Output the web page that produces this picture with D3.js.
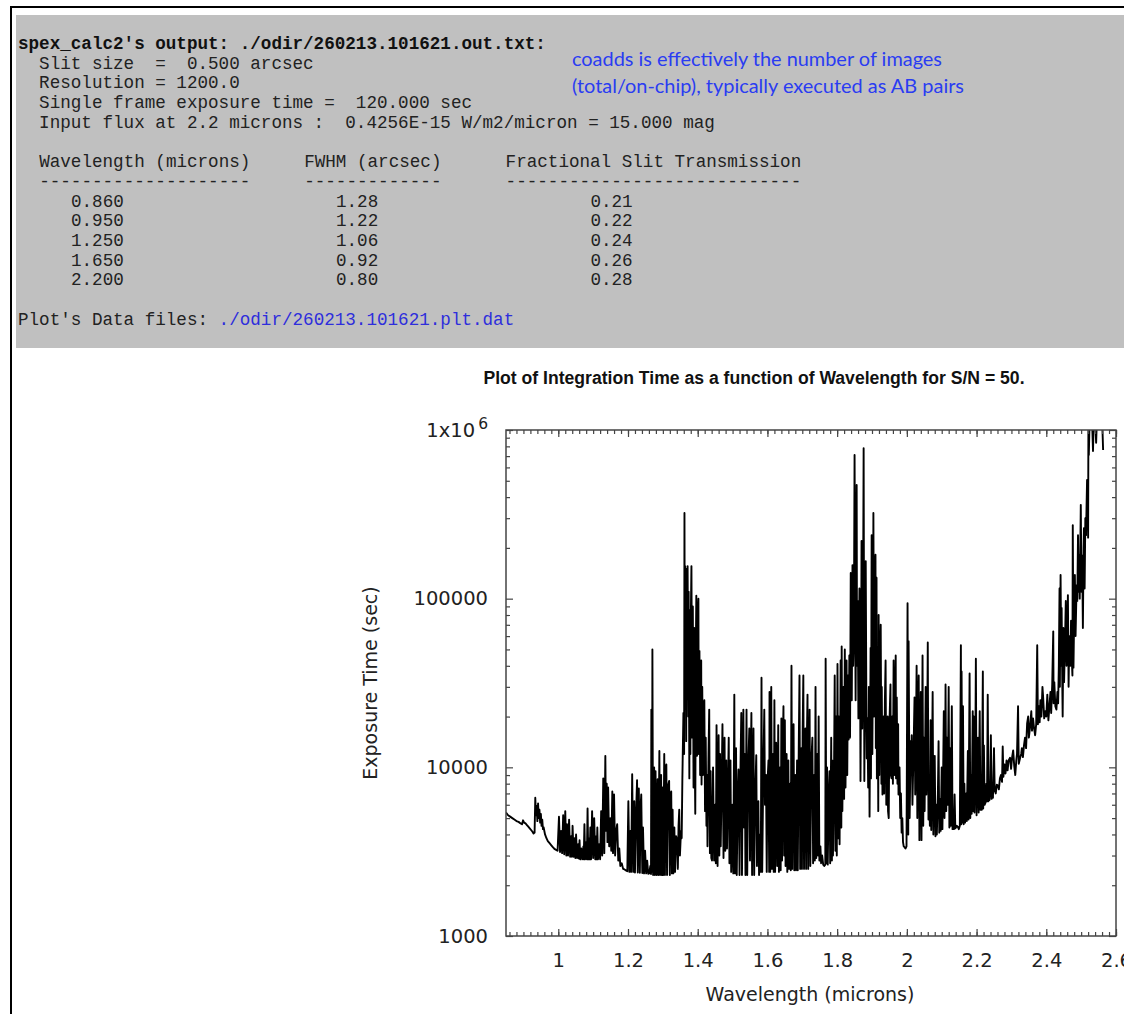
<!DOCTYPE html>
<html>
<head>
<meta charset="utf-8">
<script src="https://cdn.jsdelivr.net/npm/d3@7"></script>
<style>
body { margin: 0; background: #fff; }
.mono { font-family: "Liberation Mono", "DejaVu Sans Mono", monospace; font-size: 17.6px; fill: #222; white-space: pre; }
.tick text { font-family: "DejaVu Sans", sans-serif; font-size: 19.5px; fill: #222; }
</style>
</head>
<body>
<svg id="page" width="1124" height="1014"></svg>
<script>
// text block printed by the calculator
const runInfo = [
	"spex_calc2's output: ./odir/260213.101621.out.txt:",
	"  Slit size  =  0.500 arcsec",
	"  Resolution = 1200.0",
	"  Single frame exposure time =  120.000 sec",
	"  Input flux at 2.2 microns :  0.4256E-15 W/m2/micron = 15.000 mag"
]
const colHeads = ['Wavelength (microns)', 'FWHM (arcsec)', 'Fractional Slit Transmission']
const tableWave = ['0.860', '0.950', '1.250', '1.650', '2.200']
const tableFwhm = ['1.28', '1.22', '1.06', '0.92', '0.80']
const tableSlit = ['0.21', '0.22', '0.24', '0.26', '0.28']
const dataFile = './odir/260213.101621.plt.dat'
const note = ['coadds is effectively the number of images', '(total/on-chip), typically executed as AB pairs']

// exposure time (sec) vs wavelength (microns)
const zBand = [
	[0.850,5400],[0.856,5200],[0.862,5100],[0.868,5000],[0.874,4900],[0.880,4800],[0.886,4750],[0.892,4650],[0.896,4600],[0.899,4850],
	[0.902,4700],[0.906,4650],[0.910,4550],[0.914,4450],[0.918,4350],[0.922,4250],[0.926,4150],[0.929,4050],[0.932,4100],[0.934,6600],
	[0.936,5200],[0.938,5900],[0.940,4800],[0.942,6100],[0.944,5000],[0.946,5600],[0.948,4700],[0.950,5300],[0.952,4500],[0.954,4900],
	[0.956,4300],[0.958,4400],[0.962,4000],[0.966,3800],[0.970,3650],[0.975,3550],[0.980,3450],[0.985,3350],[0.990,3270],[0.995,3230],
	[0.998,3200],[1.002,5100],[1.005,3150],[1.008,4200],[1.011,3100],[1.014,5200],[1.017,3050],[1.020,5500],[1.023,3000],[1.025,4600],
	[1.028,3000],[1.031,4900],[1.034,2950],[1.037,3900],[1.039,2950],[1.041,4500],[1.044,2950],[1.047,3800],[1.049,2900],[1.051,4000],
	[1.054,2900],[1.057,3500],[1.059,2880],[1.061,3700],[1.063,2850],[1.066,3300],[1.069,2850],[1.072,3400],[1.073,2850],[1.075,4600],
	[1.077,2850],[1.080,3600],[1.082,2850],[1.084,5700],[1.086,2850],[1.089,3800],[1.090,2850],[1.092,4400],[1.094,2850],[1.097,5500],
	[1.100,2900],[1.103,5000],[1.106,2850],[1.109,3900],[1.110,2850],[1.112,4400],[1.114,2850],[1.117,3500],[1.120,2850],[1.123,5500],
	[1.126,3000],[1.129,8600]
]
const jBand = [
	[1.132,3100],[1.135,11700],[1.137,4200],[1.139,8000],[1.141,3600],[1.143,7600],[1.146,3400],[1.149,5000],[1.152,3200],[1.155,7200],
	[1.157,3100],[1.160,6900],[1.163,3000],[1.166,4200],[1.169,4600],[1.172,2800],[1.175,3300],[1.178,2600],[1.182,2700],[1.186,2500],
	[1.190,2480],[1.194,2450],[1.198,2420],[1.201,6300],[1.204,2400],[1.207,4200],[1.209,2400],[1.212,9100],[1.215,2400],[1.218,6300],
	[1.220,2380],[1.223,5200],[1.226,8400],[1.228,2380],[1.231,7500],[1.234,2370],[1.236,5800],[1.238,6900],[1.241,2360],[1.243,4400],
	[1.246,2350],[1.249,3200],[1.252,2350],[1.255,2800],[1.258,2340],[1.261,2350],[1.264,2600],[1.266,2330],[1.267,22000],[1.269,2400],
	[1.270,50000],[1.272,2300],[1.275,10000],[1.277,2300],[1.279,9500],[1.282,2300],[1.285,8500],[1.287,2300],[1.290,12500],[1.292,2300],
	[1.295,9000],[1.297,2300],[1.299,7600],[1.301,2300],[1.304,12000],[1.306,2300],[1.308,9500],[1.310,10400],[1.312,2300],[1.315,7800],
	[1.318,8300],[1.320,2300],[1.322,6500],[1.324,7200],[1.326,2350],[1.328,5600],[1.330,2350],[1.333,4400],[1.335,2400],[1.338,3900],
	[1.341,3700],[1.343,2500],[1.345,4500],[1.347,5600],[1.349,3000],[1.352,4200],[1.354,3800]
]
const h2oBand1 = [
	[1.356,8600],[1.359,21000],[1.361,12000],[1.362,322000],[1.363,30000],[1.364,156000],[1.366,60000],[1.367,14300],[1.368,150000],[1.370,40000],
	[1.371,156000],[1.373,20000],[1.374,110000],[1.376,8600],[1.377,85000],[1.379,12000],[1.380,70000],[1.382,156000],[1.384,15000],[1.386,90000],
	[1.388,7600],[1.389,20000],[1.390,67000],[1.392,9000],[1.393,5300],[1.395,60000],[1.396,104000],[1.398,11700],[1.400,80000],[1.402,100000],
	[1.403,12000],[1.405,49000],[1.407,9000],[1.409,35000],[1.410,43000],[1.411,7900],[1.413,30000],[1.415,9000],[1.417,22000],[1.419,25000],
	[1.421,5500],[1.423,15000],[1.425,4500],[1.427,9000],[1.428,3400],[1.431,12000],[1.433,22000],[1.435,3100],[1.437,9500],[1.439,2900]
]
const hBand = [
	[1.441,2800],[1.444,10000],[1.447,2800],[1.450,6000],[1.452,2700],[1.454,17800],[1.457,2600],[1.460,15500],[1.462,3000],[1.464,12000],
	[1.466,3400],[1.469,9000],[1.471,18000],[1.474,2900],[1.477,15000],[1.479,3200],[1.482,11000],[1.484,3300],[1.487,8000],[1.489,15000],
	[1.491,2700],[1.494,11000],[1.496,2400],[1.499,6000],[1.502,2350],[1.505,27000],[1.507,2350],[1.510,13000],[1.512,2300],[1.515,7000],
	[1.517,9700],[1.520,2300],[1.522,8000],[1.525,21000],[1.527,2300],[1.529,9000],[1.531,22000],[1.533,4400],[1.535,12000],[1.537,2300],
	[1.540,22000],[1.542,2300],[1.545,10000],[1.548,17000],[1.550,2800],[1.552,9000],[1.554,21000],[1.556,2300],[1.558,8000],[1.560,17000],
	[1.562,2300],[1.565,7000],[1.568,11800],[1.570,2600],[1.572,5000],[1.574,6300],[1.576,2300],[1.579,4000],[1.581,2400],[1.583,34000],
	[1.585,2400],[1.588,9000],[1.591,22000],[1.593,6000],[1.596,9000],[1.598,2400],[1.600,8000],[1.603,11000],[1.605,2400],[1.606,28000],
	[1.608,2400],[1.611,30000],[1.613,2500],[1.616,12000],[1.618,2400],[1.620,25000],[1.622,2400],[1.625,14000],[1.628,2600],[1.631,17800],
	[1.633,2400],[1.636,10000],[1.638,2450],[1.640,19500],[1.642,2800],[1.644,13000],[1.646,23000],[1.648,3000],[1.650,19000],[1.652,2600],
	[1.655,12000],[1.657,2400],[1.660,11000],[1.662,2500],[1.665,8000],[1.667,2450],[1.669,40000],[1.671,2500],[1.673,12000],[1.675,18000],
	[1.677,2450],[1.680,9000],[1.682,2450],[1.685,11000],[1.687,2450],[1.690,14000],[1.692,35000],[1.694,2500],[1.697,13000],[1.699,2500],
	[1.701,16000],[1.703,35000],[1.705,2500],[1.707,12000],[1.709,17000],[1.711,2500],[1.713,14000],[1.715,27000],[1.717,2500],[1.719,9000],
	[1.721,22000],[1.723,2600],[1.726,11000],[1.729,15000],[1.731,2700],[1.734,9000],[1.736,2800],[1.738,30000],[1.740,2900],[1.743,12000],
	[1.745,3000],[1.747,20000],[1.749,2800],[1.752,3400],[1.754,2700],[1.757,3000],[1.760,2650],[1.763,2600],[1.766,2650],[1.767,44000],
	[1.769,2700],[1.771,10000],[1.773,2650],[1.776,7000],[1.778,9500],[1.780,2700],[1.783,15000],[1.785,2800],[1.786,11000],[1.788,3000],
	[1.791,9000],[1.793,35000],[1.795,3200],[1.797,20000],[1.799,3000],[1.801,41000],[1.803,3800],[1.805,20000],[1.807,3500],[1.810,43000],
	[1.812,4400],[1.813,52000],[1.815,5500],[1.818,30000],[1.820,6500],[1.822,50000],[1.824,7600],[1.827,43000],[1.829,9000],[1.831,35000],
	[1.833,14600]
]
const h2oBand2 = [
	[1.835,46000],[1.837,15000],[1.839,142000],[1.841,30000],[1.842,25000],[1.844,158000],[1.846,40000],[1.848,60000],[1.850,711000],[1.852,60000],
	[1.853,25000],[1.856,472000],[1.857,40000],[1.859,97000],[1.861,19500],[1.864,115000],[1.866,30000],[1.867,8300],[1.869,50000],[1.870,220000],
	[1.872,17000],[1.874,60000],[1.876,780000],[1.878,8300],[1.880,40000],[1.882,167000],[1.884,20000],[1.885,11300],[1.887,19500],[1.889,7600],
	[1.891,30000],[1.893,5100],[1.896,51000],[1.897,8600],[1.899,238000],[1.901,12000],[1.903,60000],[1.904,322000],[1.906,20000],[1.908,90000],
	[1.910,182000],[1.911,13000],[1.913,133000],[1.914,8600],[1.916,50000],[1.918,5500],[1.919,80000],[1.921,9000],[1.923,40000],[1.925,70000],
	[1.927,8000],[1.928,30000],[1.930,6900],[1.933,20000],[1.935,7000],[1.937,25000],[1.939,43000],[1.941,6000],[1.943,15000],[1.945,20000],
	[1.946,5500],[1.948,5000],[1.950,18000],[1.953,31000],[1.954,9000],[1.956,8600],[1.958,20000],[1.960,8000],[1.962,43000],[1.964,9000],
	[1.966,20000],[1.968,46000],[1.969,8600],[1.971,26000],[1.973,8000],[1.975,18000],[1.976,6900],[1.979,10000],[1.981,5000],[1.983,7000],
	[1.985,4100],[1.987,5000],[1.989,3600],[1.991,3400],[1.994,3350],[1.996,3300],[1.999,3400],[2.002,94000],[2.004,4000],[2.005,56000]
]
const kBand = [
	[2.008,5000],[2.011,14300],[2.013,9500],[2.014,15500],[2.016,6000],[2.019,12000],[2.022,26000],[2.024,6900],[2.026,15000],[2.028,40000],
	[2.030,5000],[2.032,20000],[2.034,35000],[2.036,3700],[2.038,12000],[2.040,28000],[2.042,3700],[2.045,46000],[2.047,4500],[2.049,15000],
	[2.051,5500],[2.054,30000],[2.056,6900],[2.058,12000],[2.060,55000],[2.062,4900],[2.064,9000],[2.066,4500],[2.068,19000],[2.070,4250],
	[2.072,10000],[2.074,28000],[2.076,4000],[2.078,8000],[2.080,11700],[2.082,3900],[2.084,6000],[2.086,4000],[2.089,7000],[2.091,14300],
	[2.093,4100],[2.095,6500],[2.097,4200],[2.100,10000],[2.102,4300],[2.104,9000],[2.106,21500],[2.108,5000],[2.110,12000],[2.111,31000],
	[2.113,5500],[2.115,15000],[2.117,6000],[2.120,30000],[2.122,4400],[2.124,13000],[2.126,4500],[2.129,23000],[2.131,4300],[2.133,5500],
	[2.135,4300],[2.137,6900],[2.139,4350],[2.141,4400],[2.143,4500],[2.146,4450],[2.149,4300],[2.152,4500],[2.155,53000],[2.156,4600],
	[2.157,37000],[2.159,4700],[2.161,23000],[2.163,4600],[2.165,8000],[2.167,4700],[2.170,7000],[2.172,4800],[2.175,12500],[2.177,4900],
	[2.180,36000],[2.182,5000],[2.184,9000],[2.186,5300],[2.189,21500],[2.190,5500],[2.192,20000],[2.194,5400],[2.196,9000],[2.198,44000],
	[2.200,5200],[2.202,9000],[2.204,15000],[2.206,5400],[2.209,21500],[2.211,5600],[2.213,9000],[2.215,5600],[2.218,37000],[2.219,5700],
	[2.221,13500],[2.223,6000],[2.226,6200],[2.228,8000],[2.230,6300],[2.232,27000],[2.234,6300],[2.235,6900],[2.237,6400],[2.239,8000],
	[2.241,15500],[2.243,6500],[2.245,7500],[2.247,6600],[2.250,13000],[2.252,7300],[2.255,7000],[2.258,7900],[2.261,7800],[2.264,7400],
	[2.267,8600],[2.270,9000],[2.273,8200],[2.275,13300],[2.277,8800],[2.280,10400],[2.283,9200],[2.286,11000],[2.289,9600],[2.292,11000],
	[2.296,11400],[2.299,9800],[2.302,11500],[2.305,12600],[2.308,10200],[2.311,9000],[2.314,11000],[2.316,12000],[2.319,23000],[2.321,10500],
	[2.325,11400],[2.328,12000],[2.330,13000],[2.333,11500],[2.336,13500],[2.339,15000],[2.342,13000],[2.345,18200],[2.348,20000],[2.350,15000],
	[2.353,17000],[2.357,21500],[2.359,16500],[2.362,19500],[2.365,17000],[2.368,15500],[2.371,18000],[2.374,53000],[2.376,18000],[2.379,23000],
	[2.381,18500],[2.383,25000],[2.386,20000],[2.389,30000],[2.391,26000],[2.394,19500],[2.397,21500],[2.400,20000],[2.403,27000],[2.406,19000],
	[2.409,23000],[2.412,28000],[2.414,21000],[2.417,31000],[2.420,64000],[2.421,24000],[2.423,32000],[2.426,23000],[2.429,22000],[2.432,28000],
	[2.434,24000],[2.436,40000],[2.438,115000],[2.439,30000],[2.441,138000],[2.443,40000],[2.444,88000],[2.446,30000],[2.447,20000],[2.449,67000],
	[2.451,32000],[2.454,60000],[2.456,97000],[2.458,40000],[2.460,51000],[2.462,105000],[2.464,30000],[2.466,60000],[2.469,40000],[2.471,74000],
	[2.473,45000],[2.475,35000],[2.476,273000],[2.478,39000],[2.480,80000],[2.482,138000],[2.484,60000],[2.487,120000],[2.489,97000],[2.491,238000],
	[2.493,110000],[2.494,182000],[2.496,100000],[2.499,360000],[2.501,110000],[2.503,180000],[2.505,67000],[2.507,200000],[2.508,262000],[2.510,115000],
	[2.512,300000],[2.514,238000],[2.517,506000],[2.519,400000],[2.520,230000],[2.521,1400000],[2.522,711000],[2.525,1300000],[2.528,1500000],[2.531,1200000],
	[2.534,750000],[2.537,1400000],[2.540,1200000],[2.543,840000],[2.546,1300000],[2.550,1500000],[2.555,1400000],[2.560,1200000],[2.563,761000]
]

const xMajor = [1, 1.2, 1.4, 1.6, 1.8, 2, 2.2, 2.4, 2.6]
const yMajor = [1000, 10000, 100000, 1000000]
const yLabels = ['1000', '10000', '100000', '1x10']

const chartTitle = 'Plot of Integration Time as a function of Wavelength for S/N = 50.'
const xTitle = 'Wavelength (microns)'
const yTitle = 'Exposure Time (sec)'

var spectrum = [].concat(zBand, jBand, h2oBand1, hBand, h2oBand2, kBand)

var svg = d3.select('#page')

// page border and grey output box
svg.append('line').attr('x1', 11).attr('y1', 7).attr('x2', 11).attr('y2', 1014).attr('stroke', '#000').attr('stroke-width', 2)
svg.append('line').attr('x1', 10).attr('y1', 7).attr('x2', 1124).attr('y2', 7).attr('stroke', '#000').attr('stroke-width', 2)
svg.append('rect').attr('x', 16).attr('y', 15).attr('width', 1110).attr('height', 333).attr('fill', '#c0c0c0')

var charW = 10.6, lineH = 19.7, top0 = 49, left0 = 18
function row(i) { return top0 + i * lineH }
function col(c) { return left0 + c * charW }

runInfo.forEach((t, i) => {
	svg.append('text').attr('class', 'mono').attr('xml:space', 'preserve')
		.attr('x', left0).attr('y', row(i))
		.style('font-weight', i === 0 ? 'bold' : 'normal')
		.style('fill', i === 0 ? '#111' : '#222')
		.text(t)
})

var headCols = [2, 27, 46], valCols = [5, 30, 54]
colHeads.forEach((h, j) => {
	svg.append('text').attr('class', 'mono').attr('x', col(headCols[j])).attr('y', row(6)).text(h)
	svg.append('text').attr('class', 'mono').attr('x', col(headCols[j])).attr('y', row(7)).text('-'.repeat(h.length))
})
tableWave.forEach((w, i) => {
	[w, tableFwhm[i], tableSlit[i]].forEach((v, j) => {
		svg.append('text').attr('class', 'mono').attr('x', col(valCols[j])).attr('y', row(8 + i)).text(v)
	})
})
var files = svg.append('text').attr('class', 'mono').attr('xml:space', 'preserve').attr('x', left0).attr('y', row(14))
files.append('tspan').text("Plot's Data files: ")
files.append('tspan').style('fill', '#2e2edc').text(dataFile)

// blue note
var noteLen = [370, 392]
note.forEach((t, i) => {
	svg.append('text').attr('x', 572).attr('y', 66 + i * 27)
		.attr('textLength', noteLen[i]).attr('lengthAdjust', 'spacingAndGlyphs')
		.style('font-family', 'Lato, "Open Sans", sans-serif').style('font-size', '18.5px')
		.style('fill', '#2a3cf2').text(t)
})

// plot
var x = d3.scaleLinear().domain([0.85, 2.6]).range([506, 1116])
var y = d3.scaleLog().domain([1000, 1000000]).range([936, 430])

svg.append('text').attr('x', 754).attr('y', 384).attr('text-anchor', 'middle')
	.style('font-family', '"Liberation Sans", Arial, sans-serif').style('font-weight', 'bold')
	.style('font-size', '17.6px').style('fill', '#111').text(chartTitle)

svg.append('clipPath').attr('id', 'plotclip').append('rect')
	.attr('x', 506).attr('y', 430).attr('width', 610).attr('height', 506)

var line = d3.line().x(d => x(d[0])).y(d => y(d[1]))
svg.append('path').datum(spectrum).attr('clip-path', 'url(#plotclip)')
	.attr('d', line).attr('fill', 'none').attr('stroke', '#000')
	.attr('stroke-width', 1.9).attr('stroke-linejoin', 'round')

var xMinor = d3.range(43, 131).map(i => +(i * 0.02).toFixed(2))
var yMinor = []
;[1000, 10000, 100000].forEach(dec => { for (var m = 2; m <= 9; m++) yMinor.push(m * dec) })

function tickGroup(axis, tx, ty) {
	var g = svg.append('g').attr('transform', `translate(${tx},${ty})`).call(axis)
	g.select('.domain').remove()
	g.selectAll('line').attr('stroke', '#444').attr('stroke-width', 1.2)
	return g
}
tickGroup(d3.axisBottom(x).tickValues(xMinor).tickSize(-4).tickFormat(''), 0, 936)
tickGroup(d3.axisTop(x).tickValues(xMinor).tickSize(-4).tickFormat(''), 0, 430)
tickGroup(d3.axisLeft(y).tickValues(yMinor).tickSize(-4).tickFormat(''), 506, 0)
tickGroup(d3.axisRight(y).tickValues(yMinor).tickSize(-4).tickFormat(''), 1116, 0)

tickGroup(d3.axisBottom(x).tickValues(xMajor).tickSize(-7).tickPadding(17).tickFormat(d3.format('')), 0, 936)
tickGroup(d3.axisTop(x).tickValues(xMajor).tickSize(-7).tickFormat(''), 0, 430)
var yl = tickGroup(d3.axisLeft(y).tickValues(yMajor).tickSize(-7).tickPadding(18)
	.tickFormat((d, i) => yLabels[i]), 506, 0)
tickGroup(d3.axisRight(y).tickValues(yMajor).tickSize(-7).tickFormat(''), 1116, 0)

yl.selectAll('.tick text').filter(d => d === 1000000).each(function () {
	var t = d3.select(this).attr('x', -18)
	t.append('tspan').attr('dy', '-0.5em').attr('dx', '3').style('font-size', '15.5px').text('6')
})

svg.append('rect').attr('x', 506).attr('y', 430).attr('width', 610).attr('height', 506)
	.attr('fill', 'none').attr('stroke', '#444').attr('stroke-width', 1.5)

svg.append('text').attr('x', 810).attr('y', 1001).attr('text-anchor', 'middle')
	.style('font-family', '"DejaVu Sans", sans-serif').style('font-size', '19px').style('fill', '#222').text(xTitle)
svg.append('text').attr('transform', 'translate(377,683) rotate(-90)').attr('text-anchor', 'middle')
	.style('font-family', '"DejaVu Sans", sans-serif').style('font-size', '19px').style('fill', '#222').text(yTitle)
</script>
</body>
</html>
